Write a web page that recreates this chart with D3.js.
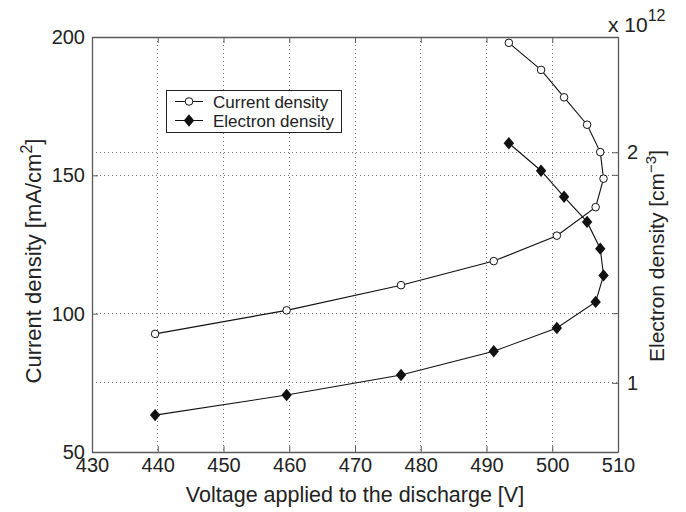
<!DOCTYPE html>
<html>
<head>
<meta charset="utf-8">
<script src="https://d3js.org/d3.v7.min.js"></script>
<style>
  html, body { margin: 0; padding: 0; background: #fff; }
  svg { display: block; font-family: "Liberation Sans", Arial, Helvetica, sans-serif; }
</style>
</head>
<body>
<svg id="chart" width="686" height="512"></svg>
<script>
// Discharge voltage [V] shared by both measured series
const voltage = [439.6, 459.6, 477.0, 491.1, 500.7, 506.6, 507.8, 507.3, 505.3, 501.8, 498.3, 493.4];
// Current density [mA/cm^2]
const currentDensity = [92.7, 101.2, 110.3, 119.0, 128.2, 138.5, 148.8, 158.4, 168.3, 178.2, 188.1, 197.9];
// Electron density [10^12 cm^-3]
const electronDensity = [0.86, 0.947, 1.034, 1.137, 1.238, 1.351, 1.466, 1.582, 1.698, 1.807, 1.920, 2.039];

const xTicks = [430, 440, 450, 460, 470, 480, 490, 500, 510];
const leftTicks = [50, 100, 150, 200];
const rightTicks = [1, 2];
const seriesNames = ["Current density", "Electron density"];

const svg = d3.select("#chart");
const L = 92, R = 618, T = 37, B = 452;
const axisColor = "#5a5a5a";
const textColor = "#222";

const x = d3.scaleLinear().domain([430, 510]).range([L, R]);
const yL = d3.scaleLinear().domain([50, 200]).range([B, T]);
const yR = d3.scaleLinear().domain([0.7, 2.5]).range([B, T]);

// dotted grid
const grid = svg.append("g").attr("stroke", "#777").attr("stroke-width", 1)
  .attr("stroke-dasharray", "1,3").attr("shape-rendering", "crispEdges");
xTicks.filter(v => v > 430 && v < 510).forEach(v => {
  grid.append("line").attr("x1", x(v)).attr("x2", x(v)).attr("y1", T).attr("y2", B);
});
leftTicks.filter(v => v > 50 && v < 200).forEach(v => {
  grid.append("line").attr("x1", L).attr("x2", R).attr("y1", yL(v)).attr("y2", yL(v));
});
rightTicks.forEach(v => {
  grid.append("line").attr("x1", L).attr("x2", R).attr("y1", yR(v)).attr("y2", yR(v));
});

// axes with inward ticks
function styleAxis(g) {
  g.select(".domain").attr("stroke", axisColor).attr("stroke-width", 1.3);
  g.selectAll(".tick line").attr("stroke", axisColor).attr("stroke-width", 1);
  g.selectAll(".tick text").attr("fill", textColor).attr("font-size", 20);
}
const xAxis = svg.append("g").attr("transform", `translate(0,${B})`)
  .call(d3.axisBottom(x).tickValues(xTicks).tickFormat(d3.format("d"))
    .tickSizeInner(-6).tickSizeOuter(0).tickPadding(6));
styleAxis(xAxis);
const xTop = svg.append("g").attr("transform", `translate(0,${T})`)
  .call(d3.axisTop(x).tickValues(xTicks).tickFormat("").tickSizeInner(-6).tickSizeOuter(0));
styleAxis(xTop);
const yAxisL = svg.append("g").attr("transform", `translate(${L},0)`)
  .call(d3.axisLeft(yL).tickValues(leftTicks).tickFormat(d3.format("d"))
    .tickSizeInner(-6).tickSizeOuter(0).tickPadding(7));
styleAxis(yAxisL);
const yAxisR = svg.append("g").attr("transform", `translate(${R},0)`)
  .call(d3.axisRight(yR).tickValues(rightTicks).tickFormat(d3.format("d"))
    .tickSizeInner(-6).tickSizeOuter(0).tickPadding(9));
styleAxis(yAxisR);
// left-axis ticks mirrored on the right edge
svg.append("g").selectAll("line").data(leftTicks.filter(v => v > 50 && v < 200)).join("line")
  .attr("x1", R).attr("x2", R - 6).attr("y1", d => yL(d)).attr("y2", d => yL(d))
  .attr("stroke", axisColor);

// axis labels
svg.append("text").attr("x", 355).attr("y", 502).attr("text-anchor", "middle")
  .attr("font-size", 21.5).attr("fill", textColor).text("Voltage applied to the discharge [V]");

const yl = svg.append("text").attr("transform", `translate(41,261) rotate(-90)`)
  .attr("text-anchor", "middle").attr("font-size", 22).attr("fill", textColor);
yl.append("tspan").text("Current density [mA/cm");
yl.append("tspan").attr("dy", -9).attr("font-size", 16).text("2");
yl.append("tspan").attr("dy", 9).text("]");

const yr = svg.append("text").attr("transform", `translate(664,256) rotate(-90)`)
  .attr("text-anchor", "middle").attr("font-size", 21).attr("fill", textColor);
yr.append("tspan").text("Electron density [cm");
yr.append("tspan").attr("dy", -8).attr("font-size", 15).text("\u22123");
yr.append("tspan").attr("dy", 8).text("]");

// exponent multiplier of the right axis
const ex = svg.append("text").attr("x", 608).attr("y", 32).attr("font-size", 21).attr("fill", textColor);
ex.append("tspan").text("x 10");
ex.append("tspan").attr("dy", -11).attr("font-size", 16).text("12");

// series
const idx = d3.range(voltage.length);
const lineCur = d3.line().x(i => x(voltage[i])).y(i => yL(currentDensity[i]));
const lineEl = d3.line().x(i => x(voltage[i])).y(i => yR(electronDensity[i]));

svg.append("path").attr("d", lineCur(idx)).attr("fill", "none").attr("stroke", "#111").attr("stroke-width", 1.1);
svg.append("path").attr("d", lineEl(idx)).attr("fill", "none").attr("stroke", "#111").attr("stroke-width", 1.1);

const diamond = (cx, cy, w, h) => `M${cx},${cy - h}L${cx + w},${cy}L${cx},${cy + h}L${cx - w},${cy}Z`;

svg.append("g").selectAll("circle").data(idx).join("circle")
  .attr("cx", i => x(voltage[i])).attr("cy", i => yL(currentDensity[i])).attr("r", 3.8)
  .attr("fill", "#fff").attr("stroke", "#111").attr("stroke-width", 1);
svg.append("g").selectAll("path").data(idx).join("path")
  .attr("d", i => diamond(x(voltage[i]), yR(electronDensity[i]), 5.2, 6.2))
  .attr("fill", "#111");

// legend
const lg = svg.append("g");
lg.append("rect").attr("x", 166.5).attr("y", 90.5).attr("width", 175).attr("height", 42)
  .attr("fill", "#fff").attr("stroke", "#222").attr("stroke-width", 1);
const ly = [101.5, 120.5];
ly.forEach((yy, k) => {
  lg.append("line").attr("x1", 175).attr("x2", 203).attr("y1", yy).attr("y2", yy).attr("stroke", "#111");
  if (k === 0) {
    lg.append("circle").attr("cx", 189).attr("cy", yy).attr("r", 3.8).attr("fill", "#fff").attr("stroke", "#111");
  } else {
    lg.append("path").attr("d", diamond(189, yy, 5.2, 6.2)).attr("fill", "#111");
  }
  lg.append("text").attr("x", 213).attr("y", yy + 6).attr("font-size", 17).attr("fill", textColor).text(seriesNames[k]);
});
</script>
</body>
</html>
